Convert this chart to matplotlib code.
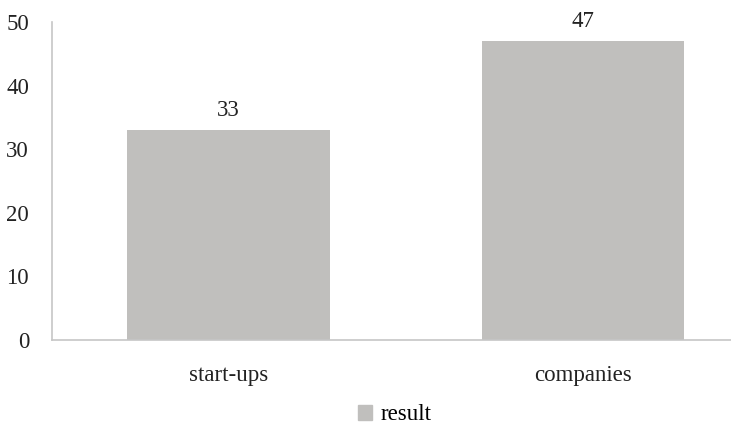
import matplotlib
matplotlib.use("Agg")
import matplotlib.pyplot as plt
from matplotlib.patches import Patch

categories = ["start-ups", "companies"]
values = [33, 47]
series_name = "result"

plt.rcParams['font.family'] = ['Liberation Serif', 'DejaVu Serif']

bar_color = "#c0bfbd"
axis_color = "#c6c6c6"
fs = 16.5

fig = plt.figure(figsize=(7.31, 4.26), dpi=100)
ax = fig.add_axes([52 / 731, 86 / 426, 679 / 731, 318 / 426])

x = list(range(len(categories)))
bars = ax.bar(x, values, width=0.5726, color=bar_color, zorder=2)
for b, v in zip(bars, values):
    ax.text(b.get_x() + b.get_width() / 2, v + 1.5, str(v),
            ha="center", va="bottom", fontsize=fs, color="#222222")

ax.set_xlim(-0.498, 1.4175)
ax.set_ylim(0, 50)
ax.set_yticks(range(0, 51, 10))
ax.set_xticks(x)
ax.set_xticklabels(categories)

for s in ["top", "right"]:
    ax.spines[s].set_visible(False)
for s in ["left", "bottom"]:
    ax.spines[s].set_color(axis_color)
    ax.spines[s].set_linewidth(1.2)

ax.tick_params(axis="both", length=0, labelsize=fs, colors="#222222")
ax.tick_params(axis="y", pad=16.5)
ax.tick_params(axis="x", pad=18)

fig.legend(handles=[Patch(color=bar_color, label=series_name)],
           loc="center", bbox_to_anchor=(395 / 731, 1 - 415 / 426),
           frameon=False, fontsize=fs, handlelength=0.6, handleheight=0.6,
           handletextpad=0.4, borderpad=0.2)

fig.savefig("out.png", dpi=100)
